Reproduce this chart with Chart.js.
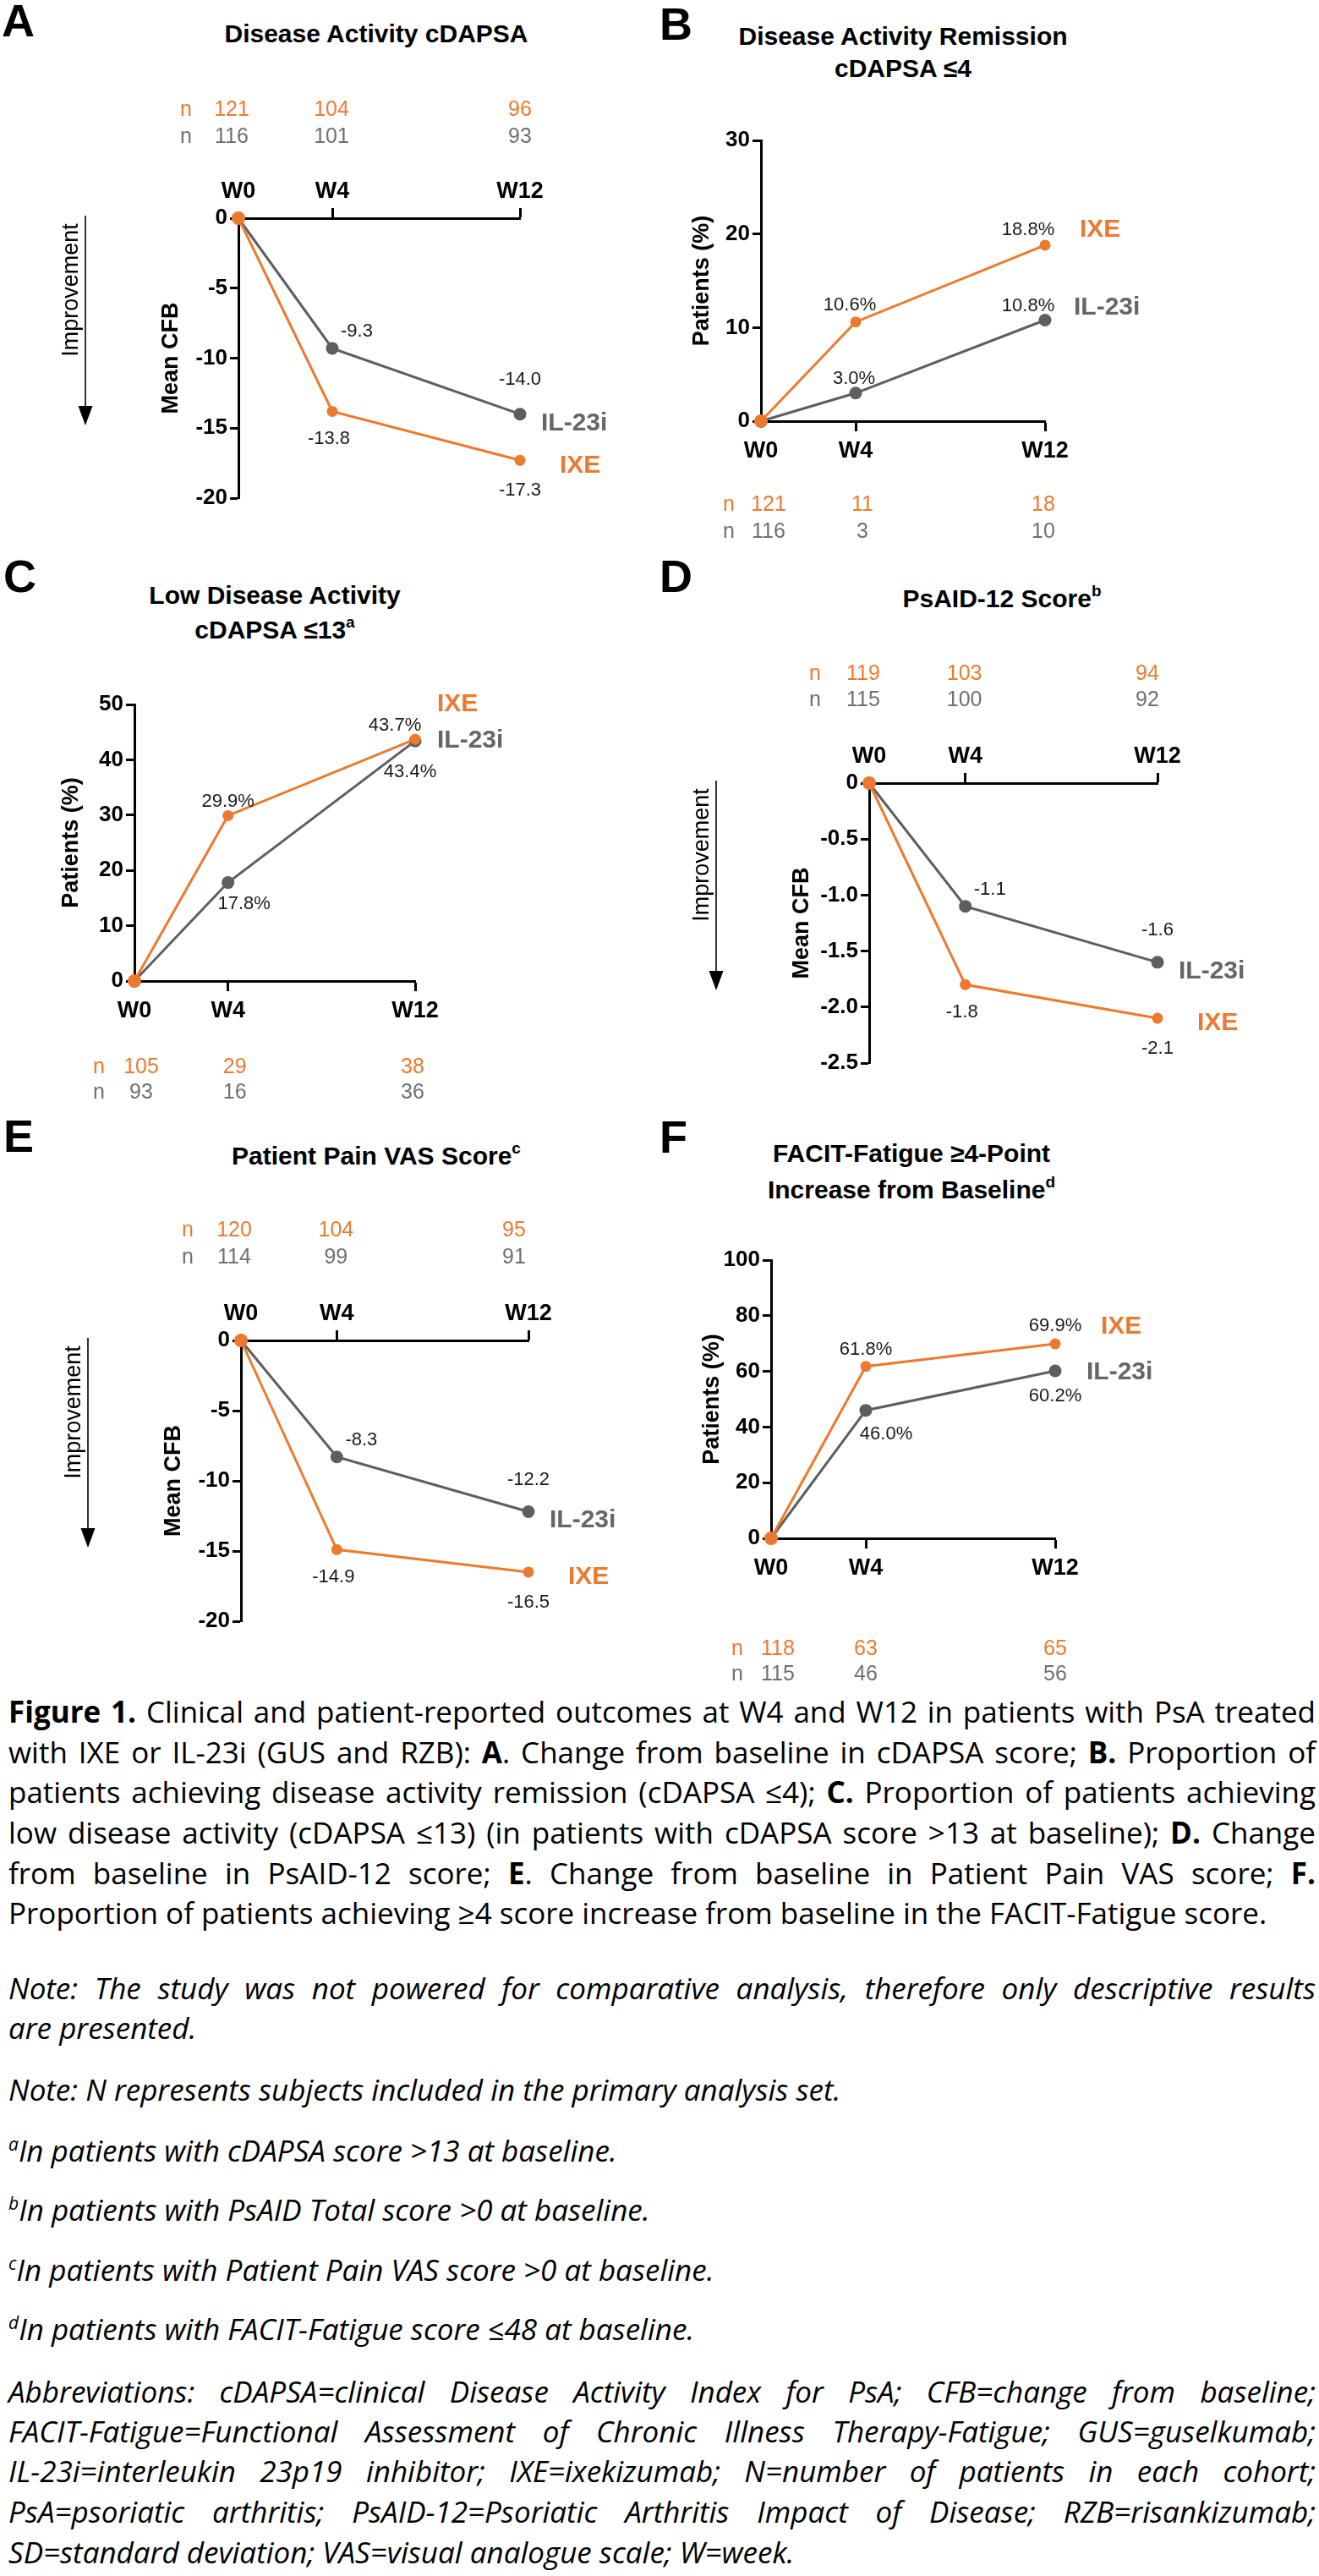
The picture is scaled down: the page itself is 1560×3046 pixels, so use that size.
<!DOCTYPE html>
<html><head><meta charset="utf-8">
<script src="https://cdn.jsdelivr.net/npm/chart.js@4.4.1/dist/chart.umd.min.js"></script>
<style>
html,body{margin:0;padding:0;background:#fff;}
#page{position:relative;width:1560px;height:3046px;overflow:hidden;background:#fff;}
canvas{position:absolute;}
.letter{position:absolute;font:bold 54px/54px "Liberation Sans",Arial,sans-serif;color:#000;}
.ptitle{position:absolute;width:800px;text-align:center;font-family:"Liberation Sans",Arial,sans-serif;font-weight:bold;font-size:30px;color:#000;}
.ptitle sup{font-size:19px;line-height:0;vertical-align:13px;}
.cap{position:absolute;left:10px;white-space:nowrap;display:inline-block;font-family:"Open Sans",sans-serif;font-size:35px;line-height:40px;color:#000;transform-origin:0 0;}
.cap.i{font-style:italic;}
.cap sup{font-size:21px;line-height:0;vertical-align:13px;}
</style></head>
<body>
<div id="page">
  <div class="letter" style="left:2px;top:-3px;">A</div>
  <div class="letter" style="left:780px;top:1px;">B</div>
  <div class="letter" style="left:4px;top:654px;">C</div>
  <div class="letter" style="left:780px;top:654px;">D</div>
  <div class="letter" style="left:4px;top:1316px;">E</div>
  <div class="letter" style="left:780px;top:1317px;">F</div>

  <div class="ptitle" style="left:45px;top:22px;line-height:36px;">Disease Activity cDAPSA</div>
  <div class="ptitle" style="left:668px;top:24px;line-height:38px;">Disease Activity Remission<br>cDAPSA ≤4</div>
  <div class="ptitle" style="left:-75px;top:683px;line-height:41px;">Low Disease Activity<br>cDAPSA ≤13<sup>a</sup></div>
  <div class="ptitle" style="left:785px;top:690px;line-height:36px;">PsAID-12 Score<sup>b</sup></div>
  <div class="ptitle" style="left:45px;top:1349px;line-height:36px;">Patient Pain VAS Score<sup>c</sup></div>
  <div class="ptitle" style="left:678px;top:1342px;line-height:43px;">FACIT-Fatigue ≥4-Point<br>Increase from Baseline<sup>d</sup></div>

  <div class="cap j" style="top:2004px;"><b>Figure 1.</b> Clinical and patient-reported outcomes at W4 and W12 in patients with PsA treated</div>
  <div class="cap j" style="top:2052px;">with IXE or IL-23i (GUS and RZB): <b>A</b>. Change from baseline in cDAPSA score; <b>B.</b> Proportion of</div>
  <div class="cap j" style="top:2099px;">patients achieving disease activity remission (cDAPSA ≤4); <b>C.</b> Proportion of patients achieving</div>
  <div class="cap j" style="top:2147px;">low disease activity (cDAPSA ≤13) (in patients with cDAPSA score &gt;13 at baseline); <b>D.</b> Change</div>
  <div class="cap j" style="top:2195px;">from baseline in PsAID-12 score; <b>E</b>. Change from baseline in Patient Pain VAS score; <b>F.</b></div>
  <div class="cap" style="top:2242px;">Proportion of patients achieving ≥4 score increase from baseline in the FACIT-Fatigue score.</div>

  <div class="cap i j" style="top:2331px;">Note: The study was not powered for comparative analysis, therefore only descriptive results</div>
  <div class="cap i" style="top:2378px;">are presented.</div>
  <div class="cap i" style="top:2451px;">Note: N represents subjects included in the primary analysis set.</div>
  <div class="cap i" style="top:2523px;"><sup>a</sup>In patients with cDAPSA score &gt;13 at baseline.</div>
  <div class="cap i" style="top:2593px;"><sup>b</sup>In patients with PsAID Total score &gt;0 at baseline.</div>
  <div class="cap i" style="top:2664px;"><sup>c</sup>In patients with Patient Pain VAS score &gt;0 at baseline.</div>
  <div class="cap i" style="top:2734px;"><sup>d</sup>In patients with FACIT-Fatigue score ≤48 at baseline.</div>
  <div class="cap i j" style="top:2808px;">Abbreviations: cDAPSA=clinical Disease Activity Index for PsA; CFB=change from baseline;</div>
  <div class="cap i j" style="top:2855px;">FACIT-Fatigue=Functional Assessment of Chronic Illness Therapy-Fatigue; GUS=guselkumab;</div>
  <div class="cap i j" style="top:2902px;">IL-23i=interleukin 23p19 inhibitor; IXE=ixekizumab; N=number of patients in each cohort;</div>
  <div class="cap i j" style="top:2950px;">PsA=psoriatic arthritis; PsAID-12=Psoriatic Arthritis Impact of Disease; RZB=risankizumab;</div>
  <div class="cap i" style="top:2998px;">SD=standard deviation; VAS=visual analogue scale; W=week.</div>
</div>
<script>
// ---------- DATA ----------
const weeks = [0, 4, 12];
const weekLabels = ['W0', 'W4', 'W12'];

// A: Disease Activity cDAPSA (mean CFB)
const cdapsaIXE  = [0, -13.8, -17.3];
const cdapsaIL23 = [0, -9.3, -14.0];
const cdapsaN_IXE  = [121, 104, 96];
const cdapsaN_IL23 = [116, 101, 93];
const cdapsaTicks = [0, -5, -10, -15, -20];

// B: Disease Activity Remission cDAPSA <=4 (%)
const remIXE  = [0, 10.6, 18.8];
const remIL23 = [0, 3.0, 10.8];
const remN_IXE  = [121, 11, 18];
const remN_IL23 = [116, 3, 10];
const remTicks = [0, 10, 20, 30];

// C: Low Disease Activity cDAPSA <=13 (%)
const ldaIXE  = [0, 29.9, 43.7];
const ldaIL23 = [0, 17.8, 43.4];
const ldaN_IXE  = [105, 29, 38];
const ldaN_IL23 = [93, 16, 36];
const ldaTicks = [0, 10, 20, 30, 40, 50];

// D: PsAID-12 Score (mean CFB)
const psaidIXE  = [0, -1.8, -2.1];
const psaidIL23 = [0, -1.1, -1.6];
const psaidN_IXE  = [119, 103, 94];
const psaidN_IL23 = [115, 100, 92];
const psaidTicks = [0, -0.5, -1.0, -1.5, -2.0, -2.5];

// E: Patient Pain VAS Score (mean CFB)
const painIXE  = [0, -14.9, -16.5];
const painIL23 = [0, -8.3, -12.2];
const painN_IXE  = [120, 104, 95];
const painN_IL23 = [114, 99, 91];
const painTicks = [0, -5, -10, -15, -20];

// F: FACIT-Fatigue >=4-point increase (%)
const facitIXE  = [0, 61.8, 69.9];
const facitIL23 = [0, 46.0, 60.2];
const facitN_IXE  = [118, 63, 65];
const facitN_IL23 = [115, 46, 56];
const facitTicks = [0, 20, 40, 60, 80, 100];

// ---------- STYLE ----------
const FONT = '"Liberation Sans", Arial, sans-serif';
const ORANGE = '#EC7A2E';
const GRAY = '#5E5E5E';
const GRAY_TXT = '#666666';
const page = document.getElementById('page');

const fmtNum = v => v.toFixed(1);
const fmtPct = v => v.toFixed(1) + '%';

function makeDecor(L, series) {
  return {
    id: 'decor',
    afterDatasetsDraw(chart) {
      const ctx = chart.ctx, xs = chart.scales.x, ca = chart.chartArea;
      const cl = L.box[0], ct = L.box[1];
      ctx.save();
      series.forEach((s, d) => {
        const meta = chart.getDatasetMeta(d);
        ctx.font = '22px ' + FONT;
        ctx.fillStyle = '#1a1a1a';
        ctx.textAlign = 'center';
        ctx.textBaseline = 'middle';
        meta.data.forEach((pt, i) => {
          if (i === 0) return;
          const off = L.labelOff[s.key][i];
          ctx.fillText(L.fmt(s.values[i]), pt.x + off[0], pt.y + off[1]);
        });
        const last = meta.data[meta.data.length - 1];
        const so = L.seriesOff[s.key];
        ctx.font = 'bold 30px ' + FONT;
        ctx.fillStyle = s.textColor;
        ctx.textAlign = 'left';
        ctx.fillText(s.name, last.x + so[0], last.y + so[1]);
      });
      // n rows
      ctx.font = '25px ' + FONT;
      ctx.textBaseline = 'middle';
      series.forEach((s, d) => {
        const y = L.nY[d] - ct;
        ctx.fillStyle = s.nColor;
        ctx.textAlign = 'center';
        ctx.fillText('n', L.nLabelX - cl, y);
        s.n.forEach((v, i) => {
          ctx.fillText(String(v), xs.getPixelForValue(weeks[i]) + L.nDx[i], y);
        });
      });
      // improvement arrow
      if (L.improvement) {
        const ax = ca.left - 181, top = ca.top - 3, tip = ca.top + 245;
        ctx.strokeStyle = '#000'; ctx.fillStyle = '#000'; ctx.lineWidth = 1.6;
        ctx.beginPath(); ctx.moveTo(ax, top); ctx.lineTo(ax, tip - 20); ctx.stroke();
        ctx.beginPath(); ctx.moveTo(ax - 8.5, tip - 23); ctx.lineTo(ax + 8.5, tip - 23); ctx.lineTo(ax, tip); ctx.closePath(); ctx.fill();
        ctx.save();
        ctx.translate(ca.left - 197, ca.top + 85);
        ctx.rotate(-Math.PI / 2);
        ctx.font = '27px ' + FONT; ctx.textAlign = 'center'; ctx.textBaseline = 'middle';
        ctx.fillText('Improvement', 0, 0);
        ctx.restore();
      }
      ctx.restore();
    }
  };
}

function buildPanel(L, ixe, il, nIxe, nIl, yTicks) {
  const [cl, ct, cw, ch] = L.box;
  const cv = document.createElement('canvas');
  cv.width = cw; cv.height = ch;
  cv.style.left = cl + 'px'; cv.style.top = ct + 'px';
  cv.style.width = cw + 'px'; cv.style.height = ch + 'px';
  page.appendChild(cv);
  const ys = 27;
  const titleLeft = L.titleCx - ys / 2;
  const yW = L.x0 - titleLeft;
  const xH = 60;
  const pad = { left: titleLeft - cl, right: cl + cw - L.x1 };
  if (L.xPos === 'top') { pad.top = L.yTop - ct - xH; pad.bottom = ct + ch - L.yBot; }
  else { pad.top = L.yTop - ct; pad.bottom = ct + ch - L.yBot - xH; }
  const series = [
    { key: 'ixe', name: 'IXE', values: ixe, n: nIxe, textColor: ORANGE, nColor: ORANGE },
    { key: 'il', name: 'IL-23i', values: il, n: nIl, textColor: GRAY_TXT, nColor: '#707070' }
  ];
  const yMin = Math.min(...yTicks), yMax = Math.max(...yTicks);
  new Chart(cv, {
    type: 'line',
    data: {
      datasets: [
        { label: 'IXE', data: weeks.map((w, i) => ({ x: w, y: ixe[i] })),
          borderColor: ORANGE, backgroundColor: ORANGE, borderWidth: 3,
          pointRadius: c => c.dataIndex === 0 ? 8 : 6.5, pointBorderWidth: 0,
          pointHoverRadius: 0, clip: false, order: 0 },
        { label: 'IL-23i', data: weeks.map((w, i) => ({ x: w, y: il[i] })),
          borderColor: GRAY, backgroundColor: GRAY, borderWidth: 3,
          pointRadius: 7.5, pointBorderWidth: 0,
          pointHoverRadius: 0, clip: false, order: 1 }
      ]
    },
    options: {
      responsive: false, animation: false, devicePixelRatio: 1, events: [],
      layout: { padding: pad },
      plugins: { legend: { display: false }, tooltip: { enabled: false } },
      scales: {
        x: {
          type: 'linear', position: L.xPos, min: 0, max: 12,
          afterBuildTicks: s => { s.ticks = weeks.map(v => ({ value: v })); },
          afterFit: s => { s.height = xH; },
          grid: { display: true, drawOnChartArea: false, drawTicks: true, tickLength: 12, tickWidth: 3,
                  tickColor: c => (c.tick && c.tick.value === 0) ? 'rgba(0,0,0,0)' : '#000' },
          border: { display: true, color: '#000', width: 3 },
          ticks: { callback: v => weekLabels[weeks.indexOf(v)], color: '#000', autoSkip: false, maxRotation: 0,
                   padding: L.xPos === 'top' ? 6 : 10,
                   font: { family: FONT, size: 27, weight: 'bold', lineHeight: 1 } }
        },
        y: {
          type: 'linear', position: 'left', min: yMin, max: yMax,
          afterBuildTicks: s => { s.ticks = yTicks.map(v => ({ value: v })); },
          afterFit: s => { s.width = yW; },
          grid: { display: true, drawOnChartArea: false, drawTicks: true, tickLength: 10, tickWidth: 3, tickColor: '#000' },
          border: { display: true, color: '#000', width: 3 },
          ticks: { callback: L.yFmt, color: '#000', padding: 3,
                   font: { family: FONT, size: 26, weight: 'bold', lineHeight: 1 } },
          title: { display: true, text: L.yTitle, color: '#000', padding: 0,
                   font: { family: FONT, size: ys, weight: 'bold', lineHeight: 1 } }
        }
      }
    },
    plugins: [makeDecor(L, series)]
  });
}

const intFmt = v => String(v);

buildPanel({ box: [0, 0, 780, 650], x0: 282, x1: 615, yTop: 258, yBot: 589, xPos: 'top', titleCx: 203,
  yTitle: 'Mean CFB', yFmt: intFmt, fmt: fmtNum, improvement: true,
  nY: [130, 162], nLabelX: 220, nDx: [-8, -1, 0],
  labelOff: { ixe: [[0,0],[-4,33],[0,36]], il: [[0,0],[29,-20],[0,-41]] },
  seriesOff: { ixe: [47, 6], il: [25, 11] } },
  cdapsaIXE, cdapsaIL23, cdapsaN_IXE, cdapsaN_IL23, cdapsaTicks);

buildPanel({ box: [780, 0, 780, 650], x0: 900, x1: 1236, yTop: 166, yBot: 498, xPos: 'bottom', titleCx: 831,
  yTitle: 'Patients (%)', yFmt: intFmt, fmt: fmtPct, improvement: false,
  nY: [597, 629], nLabelX: 862, nDx: [9, 8, -2],
  labelOff: { ixe: [[0,0],[-7,-20],[-20,-18]], il: [[0,0],[-2,-17],[-20,-17]] },
  seriesOff: { ixe: [41, -18], il: [34, -15] } },
  remIXE, remIL23, remN_IXE, remN_IL23, remTicks);

buildPanel({ box: [0, 650, 780, 680], x0: 159, x1: 491, yTop: 833, yBot: 1160, xPos: 'bottom', titleCx: 85,
  yTitle: 'Patients (%)', yFmt: intFmt, fmt: fmtPct, improvement: false,
  nY: [1262, 1292], nLabelX: 117, nDx: [8, 8, -3],
  labelOff: { ixe: [[0,0],[0,-17],[-24,-16]], il: [[0,0],[19,25],[-6,37]] },
  seriesOff: { ixe: [26, -41], il: [26, 0] } },
  ldaIXE, ldaIL23, ldaN_IXE, ldaN_IL23, ldaTicks);

buildPanel({ box: [780, 650, 780, 640], x0: 1028, x1: 1369, yTop: 926, yBot: 1257, xPos: 'top', titleCx: 949,
  yTitle: 'Mean CFB', yFmt: v => v === 0 ? '0' : v.toFixed(1), fmt: fmtNum, improvement: true,
  nY: [797, 828], nLabelX: 964, nDx: [-7, -1, -12],
  labelOff: { ixe: [[0,0],[-4,33],[0,36]], il: [[0,0],[29,-20],[0,-38]] },
  seriesOff: { ixe: [47, 6], il: [25, 11] } },
  psaidIXE, psaidIL23, psaidN_IXE, psaidN_IL23, psaidTicks);

buildPanel({ box: [0, 1330, 780, 630], x0: 285, x1: 625, yTop: 1585, yBot: 1917, xPos: 'top', titleCx: 206,
  yTitle: 'Mean CFB', yFmt: intFmt, fmt: fmtNum, improvement: true,
  nY: [1455, 1487], nLabelX: 222, nDx: [-8, -1, -17],
  labelOff: { ixe: [[0,0],[-4,33],[0,36]], il: [[0,0],[29,-20],[0,-38]] },
  seriesOff: { ixe: [47, 6], il: [25, 10] } },
  painIXE, painIL23, painN_IXE, painN_IL23, painTicks);

buildPanel({ box: [780, 1330, 780, 670], x0: 912, x1: 1248, yTop: 1490, yBot: 1819, xPos: 'bottom', titleCx: 843,
  yTitle: 'Patients (%)', yFmt: intFmt, fmt: fmtPct, improvement: false,
  nY: [1950, 1980], nLabelX: 872, nDx: [8, 0, 0],
  labelOff: { ixe: [[0,0],[0,-20],[0,-21]], il: [[0,0],[24,28],[0,30]] },
  seriesOff: { ixe: [54, -20], il: [37, 2] } },
  facitIXE, facitIL23, facitN_IXE, facitN_IL23, facitTicks);

// justify caption lines
function justify() {
  const target = 1546;
  document.querySelectorAll('.cap.j').forEach(el => {
    el.style.wordSpacing = '0px';
    el.style.transform = 'none';
    const w = el.getBoundingClientRect().width;
    const n = (el.textContent.match(/ /g) || []).length;
    let ws = n > 0 ? (target - w) / n : 0;
    if (ws < -2) {
      el.style.wordSpacing = '-2px';
      const w2 = el.getBoundingClientRect().width;
      el.style.transform = 'scaleX(' + (target / w2) + ')';
    } else {
      el.style.wordSpacing = ws + 'px';
    }
  });
  // keep unjustified lines from running past the page edge
  document.querySelectorAll('.cap:not(.j)').forEach(el => {
    el.style.transform = 'none';
    const w = el.getBoundingClientRect().width;
    if (w > target) el.style.transform = 'scaleX(' + (target / w) + ')';
  });
}
justify();
if (document.fonts && document.fonts.ready) document.fonts.ready.then(justify);
</script>
</body></html>
